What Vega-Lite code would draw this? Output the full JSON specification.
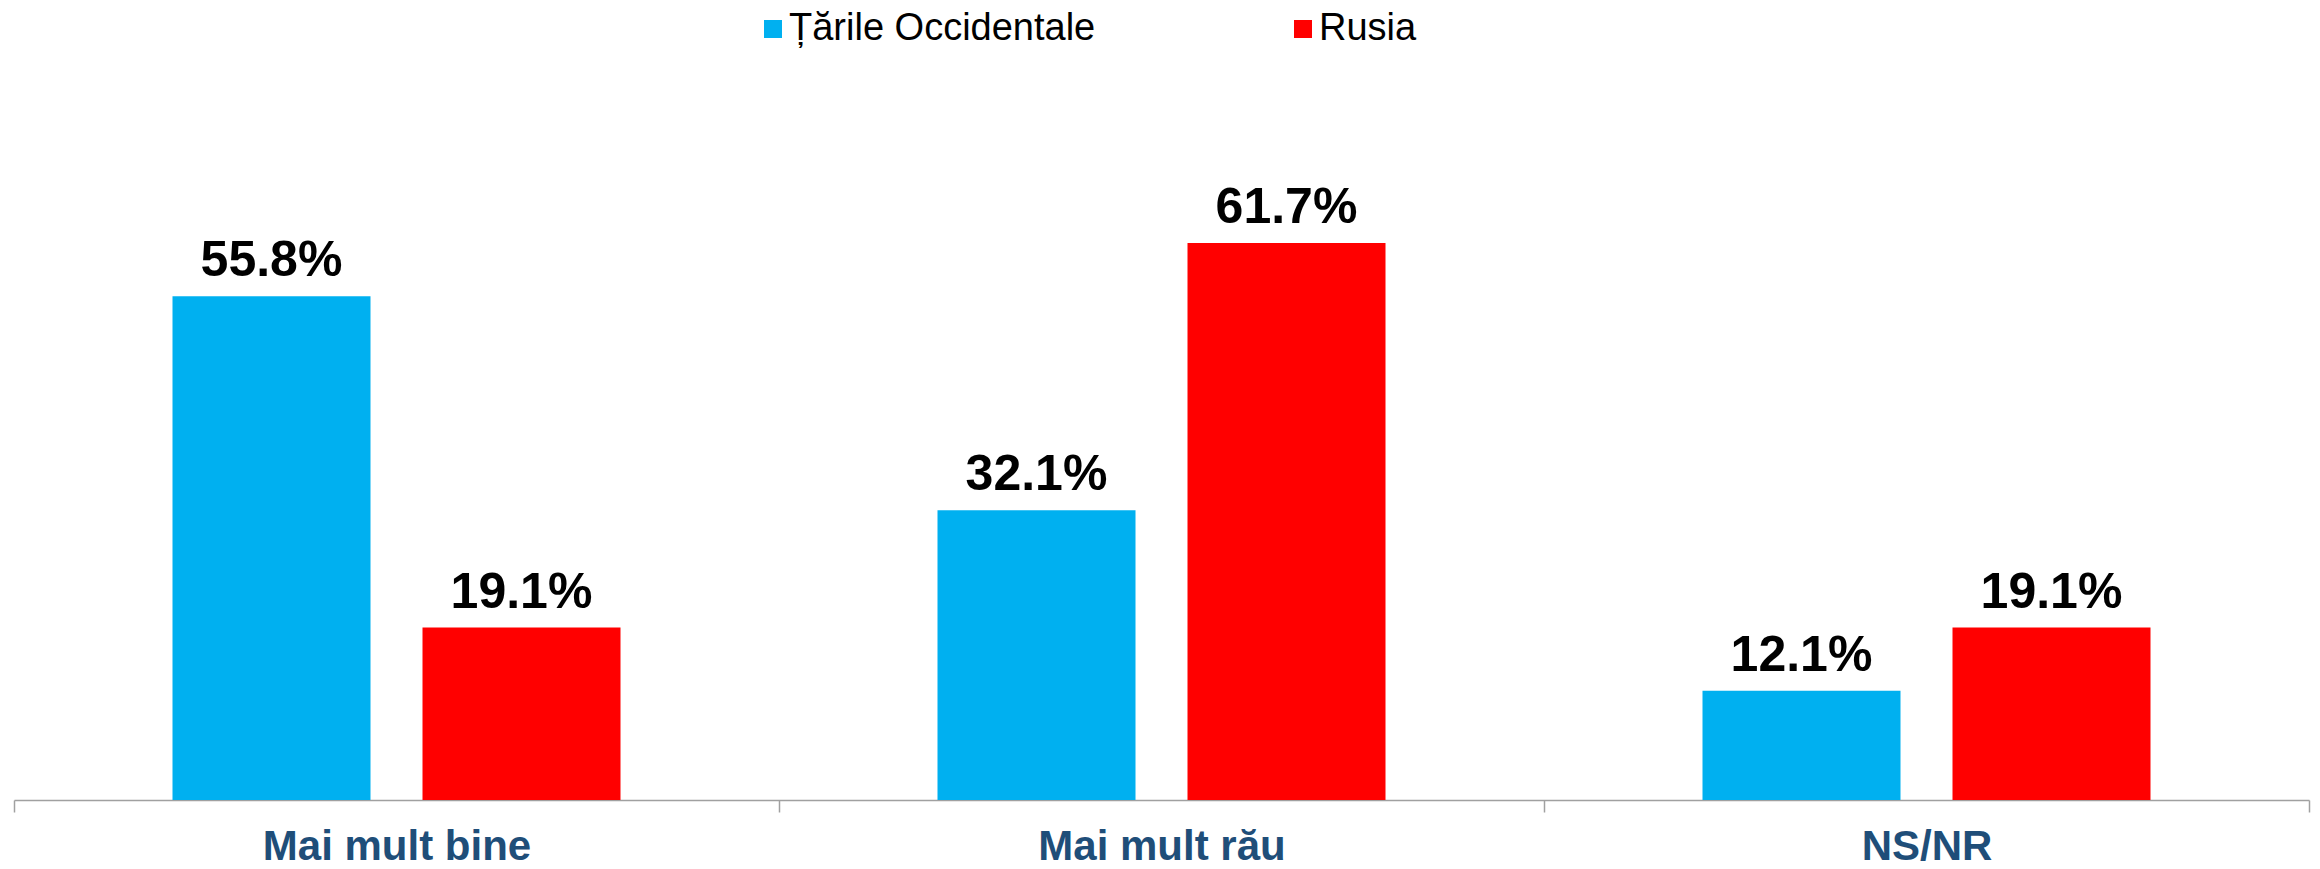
{
  "$schema": "https://vega.github.io/schema/vega-lite/v6.json",
  "width": 2295,
  "height": 632,
  "autosize": {"type": "none"},
  "padding": {"left": 14, "top": 168, "right": 11, "bottom": 69},
  "background": "white",
  "config": {
    "view": {"stroke": null},
    "font": "Liberation Sans"
  },
  "data": {
    "values": [
      {"cat": "Mai mult bine", "grup": "Țările Occidentale", "val": 0.558},
      {"cat": "Mai mult bine", "grup": "Rusia", "val": 0.191},
      {"cat": "Mai mult rău", "grup": "Țările Occidentale", "val": 0.321},
      {"cat": "Mai mult rău", "grup": "Rusia", "val": 0.617},
      {"cat": "NS/NR", "grup": "Țările Occidentale", "val": 0.121},
      {"cat": "NS/NR", "grup": "Rusia", "val": 0.191}
    ]
  },
  "encoding": {
    "x": {
      "field": "cat",
      "type": "nominal",
      "sort": ["Mai mult bine", "Mai mult rău", "NS/NR"],
      "scale": {"paddingInner": 0, "paddingOuter": 0},
      "axis": {
        "title": null,
        "labelAngle": 0,
        "labelFont": "Liberation Sans",
        "labelFontSize": 42,
        "labelFontWeight": "bold",
        "labelColor": "#1F4E79",
        "labelPadding": 14,
        "labelLimit": 0,
        "tickBand": "extent",
        "tickSize": 12,
        "tickColor": "#A0A0A0",
        "tickWidth": 1.5,
        "domainColor": "#A0A0A0",
        "domainWidth": 1.5,
        "grid": false
      }
    },
    "xOffset": {
      "field": "grup",
      "type": "nominal",
      "sort": ["Țările Occidentale", "Rusia"],
      "scale": {"paddingInner": 0.208, "paddingOuter": 0.634}
    },
    "y": {
      "field": "val",
      "type": "quantitative",
      "scale": {"domain": [0, 0.7], "nice": false},
      "axis": null
    }
  },
  "layer": [
    {
      "mark": {"type": "bar"},
      "encoding": {
        "color": {
          "field": "grup",
          "type": "nominal",
          "sort": ["Țările Occidentale", "Rusia"],
          "scale": {"domain": ["Țările Occidentale", "Rusia"], "range": ["#00B0F0", "#FF0000"]},
          "legend": {
            "title": null,
            "orient": "none",
            "direction": "horizontal",
            "legendX": 740,
            "legendY": -158,
            "padding": 0,
            "symbolType": "square",
            "symbolSize": 324,
            "symbolStrokeWidth": 0,
            "labelFont": "Liberation Sans",
            "labelFontSize": 38,
            "labelColor": "#000000",
            "labelOffset": -3,
            "columnPadding": 188,
            "labelLimit": 0
          }
        }
      }
    },
    {
      "mark": {"type": "text", "baseline": "alphabetic", "dy": -20, "fontSize": 50, "fontWeight": "bold", "font": "Liberation Sans", "color": "#000000"},
      "encoding": {
        "text": {"field": "val", "type": "quantitative", "format": ".1%"}
      }
    }
  ]
}
